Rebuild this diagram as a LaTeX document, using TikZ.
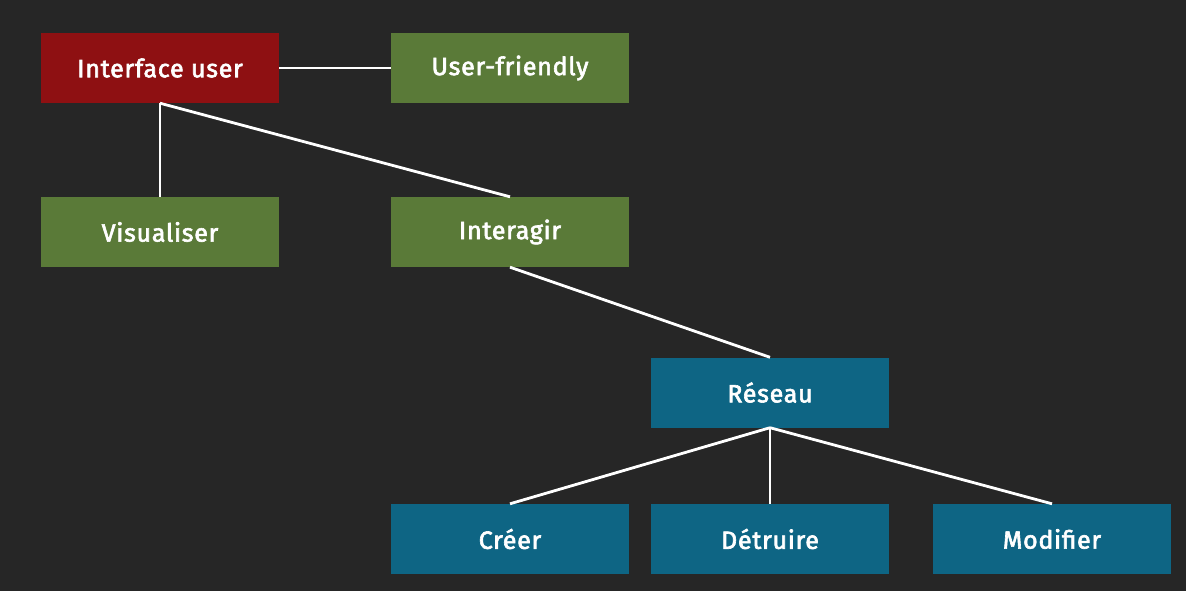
\documentclass[tikz,border=0pt]{standalone}
\usepackage{fontspec}
\newfontfamily\boxfont[FakeBold=2.5,LetterSpace=3]{Fira Sans}
\definecolor{bgc}{HTML}{262626}
\definecolor{redc}{HTML}{8E1012}
\definecolor{greenc}{HTML}{5A7A38}
\definecolor{bluec}{HTML}{0E6584}
\begin{document}
\begin{tikzpicture}[x=1pt,y=-1pt,
  box/.style={minimum width=238pt,minimum height=70pt,inner sep=0pt,text=white,
    font=\boxfont\fontsize{25}{30}\selectfont},
  redbox/.style={box,fill=redc},
  greenbox/.style={box,fill=greenc},
  bluebox/.style={box,fill=bluec},
  link/.style={draw=white,line width=2.8pt}]
\fill[bgc] (0,0) rectangle (1186,591);
\useasboundingbox (0,0) rectangle (1186,591);
\node[redbox] (iu) at (160,68) {Interface user};
\node[greenbox] (uf) at (510,68) {User-friendly};
\node[greenbox] (vis) at (160,232) {Visualiser};
\node[greenbox] (int) at (510,232) {Interagir};
\node[bluebox] (res) at (770,392.5) {Réseau};
\node[bluebox] (cre) at (510,539) {Créer};
\node[bluebox] (det) at (770,539) {Détruire};
\node[bluebox] (mod) at (1052,539) {Modifier};
\draw[link] (iu.east) -- (uf.west);
\draw[link] (iu.south) -- (vis.north);
\draw[link] (iu.south) -- (int.north);
\draw[link] (int.south) -- (res.north);
\draw[link] (res.south) -- (cre.north);
\draw[link] (res.south) -- (det.north);
\draw[link] (res.south) -- (mod.north);
\end{tikzpicture}
\end{document}
